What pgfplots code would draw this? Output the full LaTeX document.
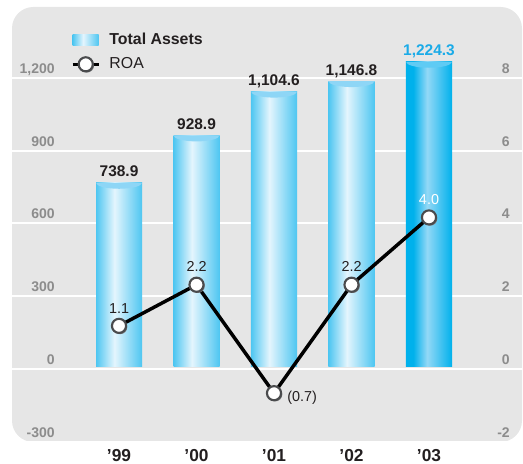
\documentclass[border=0pt]{standalone}
\usepackage{fontspec}
\setmainfont{Liberation Sans}
\usepackage{pgfplots}
\pgfplotsset{compat=1.18}

\definecolor{bgGray}{HTML}{E6E6E6}
\definecolor{tickGray}{HTML}{8C8C8C}
\definecolor{txtDark}{HTML}{231F20}
\definecolor{barEdge}{HTML}{4EC6F1}
\definecolor{barMid}{HTML}{E4F5FD}
\definecolor{capA}{HTML}{8ED6F6}
\definecolor{barEdgeB}{HTML}{00B1EC}
\definecolor{barMidB}{HTML}{93D8F6}
\definecolor{capB}{HTML}{5FCBF4}
\definecolor{hiBlue}{HTML}{1AABE8}
\definecolor{ringGray}{HTML}{4A4B4D}
\definecolor{shadowGray}{HTML}{7A7B7D}

% cylinder look of the bars (the path box maps to 25bp..75bp)
\pgfdeclarehorizontalshading{cylA}{100bp}{color(0bp)=(barEdge); color(25bp)=(barEdge); color(45bp)=(barMid); color(75bp)=(barEdge); color(100bp)=(barEdge)}
\pgfdeclarehorizontalshading{cylB}{100bp}{color(0bp)=(barEdgeB); color(33bp)=(barEdgeB); color(48bp)=(barMidB); color(75bp)=(barEdgeB); color(100bp)=(barEdgeB)}

% lower half of the top face of a bar
\pgfdeclareplotmark{cap}{%
  \pgfpathmoveto{\pgfqpoint{-17.26pt}{0pt}}%
  \pgfpatharc{180}{360}{17.26pt and 4.5pt}%
  \pgfpathclose
  \pgfusepathqfill}

% ROA marker: white dot with grey ring and small shadow
\pgfdeclareplotmark{roa}{%
  \pgfpathcircle{\pgfqpoint{0.9pt}{-0.9pt}}{\pgfplotmarksize}%
  \pgfsetfillcolor{shadowGray}\pgfusepathqfill
  \pgfpathcircle{\pgfpointorigin}{\pgfplotmarksize}%
  \pgfsetfillcolor{white}\pgfsetstrokecolor{ringGray}\pgfsetlinewidth{1.6pt}%
  \pgfusepathqfillstroke}

\pgfplotsset{
  base/.style={scale only axis, width=382.5pt, height=326.25pt,
    xmin=-1.381, xmax=5.2, clip=false,
    axis line style={draw=none}, major tick style={draw=none}, minor tick style={draw=none}},
  ticknum/.style={font=\fontsize{10.5}{12}\selectfont\bfseries, text=tickGray, inner sep=0pt, yshift=3.5pt},
  cyl/.style={ybar, bar width=0.594, bar shift=0pt, draw=none, shading=#1},
  roalegend/.style={legend image code/.code={%
    \draw[mark repeat=2, mark phase=2, ##1] plot coordinates {(0pt,0pt) (9.75pt,0pt) (19.5pt,0pt)};}},
}

\begin{document}
\begin{tikzpicture}

% background, grid, left scale, years
\begin{axis}[base, ymin=-301, ymax=1492.8,
  axis background/.style={fill=bgGray, rounded corners=16pt},
  ymajorgrids, grid style={white, line width=1.5pt},
  ytick={-300,0,300,600,900,1200}, yticklabels={-300,0,300,600,900,{1,200}},
  yticklabel style={ticknum, anchor=base east, xshift=32.25pt},
  xtick={0,1,2,3,4}, xticklabels={’99,’00,’01,’02,’03},
  xticklabel style={font=\fontsize{13}{15}\selectfont\bfseries, text=txtDark, anchor=base, inner sep=0pt, yshift=-15pt},
]
\end{axis}

% right scale (ROA)
\begin{axis}[base, ymin=-2.007, ymax=9.952, axis y line*=right, hide x axis,
  ytick={-2,0,2,4,6,8}, yticklabels={-2,0,2,4,6,8},
  yticklabel style={ticknum, anchor=base east, xshift=-9pt},
]
\end{axis}

% total assets bars, one plot per bar so each gets its own shading
\begin{axis}[base, ymin=-300.8, ymax=1444, hide axis]
\addplot[cyl=cylA] coordinates {(0,738.9)};
\addplot[cyl=cylA] coordinates {(1,928.9)};
\addplot[cyl=cylA] coordinates {(2,1104.6)};
\addplot[cyl=cylA] coordinates {(3,1146.8)};
\addplot[cyl=cylB] coordinates {(4,1224.3)};
\addplot[only marks, mark=cap, mark options={draw=none, fill=capA}]
  coordinates {(0,738.9) (1,928.9) (2,1104.6) (3,1146.8)};
\addplot[only marks, mark=cap, mark options={draw=none, fill=capB}]
  coordinates {(4,1224.3)};
\addplot[draw=none, mark=none, nodes near coords, point meta=explicit symbolic,
  every node near coord/.append style={font=\fontsize{11.6}{13}\selectfont\bfseries, text=txtDark, anchor=base, inner sep=0pt, yshift=4.5pt}]
  coordinates {(0,738.9)[738.9] (1,928.9)[928.9] (2,1104.6)[{1,104.6}] (3,1146.8)[{1,146.8}]};
\addplot[draw=none, mark=none, nodes near coords, point meta=explicit symbolic,
  every node near coord/.append style={font=\fontsize{11.6}{13}\selectfont\bfseries, text=hiBlue, anchor=base, inner sep=0pt, yshift=4.5pt}]
  coordinates {(4,1224.3)[{1,224.3}]};
\end{axis}

% ROA line
\begin{axis}[base, ymin=-2.005, ymax=9.627, hide axis, name=roa,
  legend style={at={(0.1157,0.940)}, anchor=north west, draw=none, fill=none,
    inner sep=0pt, outer sep=0pt, column sep=6.75pt, row sep=8pt,
    font=\fontsize{11.9}{14}\selectfont, text=txtDark, nodes={inner sep=0pt}},
  legend cell align=left,
]
\addlegendimage{legend image code/.code={\shade[shading=cylA, draw=none] (0pt,-4.1pt) rectangle (19.5pt,4.1pt);}}
\addlegendentry{\textbf{Total Assets}}
\addplot[black, line width=2.6pt, mark=roa, mark size=5.3pt, roalegend]
  coordinates {(0,1.1) (1,2.2) (2,-0.7) (3,2.2) (4,4.0)};
\addlegendentry{ROA}
\addplot[draw=none, mark=none, forget plot, nodes near coords, point meta=explicit symbolic,
  every node near coord/.append style={font=\fontsize{10.8}{13}\selectfont, text=txtDark, anchor=base, inner sep=0pt, yshift=9.6pt}]
  coordinates {(0,1.1)[1.1] (1,2.2)[2.2] (3,2.2)[2.2]};
\addplot[draw=none, mark=none, forget plot, nodes near coords, point meta=explicit symbolic,
  every node near coord/.append style={font=\fontsize{10.8}{13}\selectfont, text=white, anchor=base, inner sep=0pt, yshift=9.6pt}]
  coordinates {(4,4.0)[4.0]};
\addplot[draw=none, mark=none, forget plot, nodes near coords, point meta=explicit symbolic,
  every node near coord/.append style={font=\fontsize{10.8}{13}\selectfont, text=txtDark, anchor=base west, inner sep=0pt, xshift=9.75pt, yshift=-6pt}]
  coordinates {(2,-0.7)[(0.7)]};
\end{axis}

\pgfresetboundingbox
\path ([xshift=-9pt,yshift=5.25pt]roa.north west) rectangle ([xshift=0.75pt,yshift=-16.5pt]roa.south east);
\end{tikzpicture}
\end{document}
